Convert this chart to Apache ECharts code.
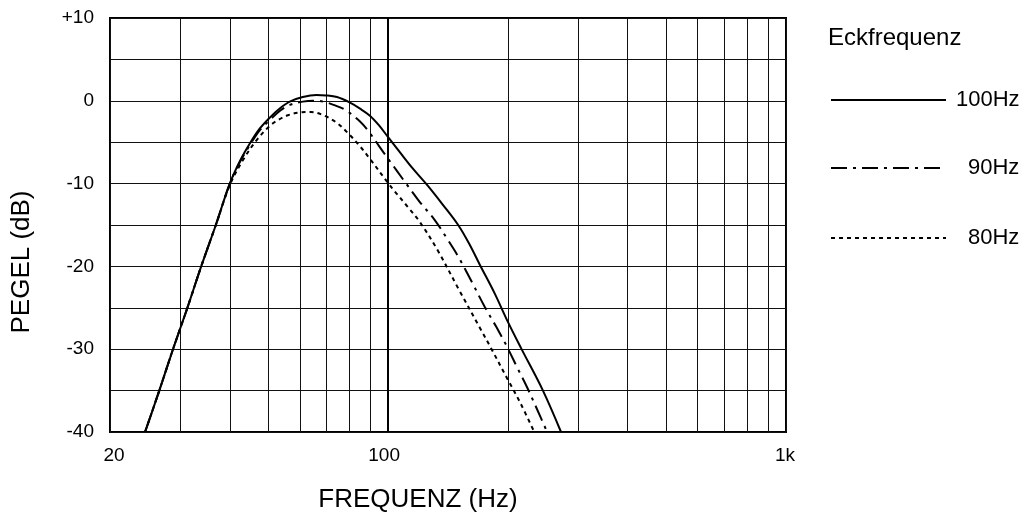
<!DOCTYPE html>
<html><head><meta charset="utf-8">
<script src="https://cdn.jsdelivr.net/npm/echarts@6/dist/echarts.min.js"></script>
<style>html,body{margin:0;padding:0;background:#fff}#c{width:1030px;height:521px}</style>
</head><body><div id="c"></div>
<script>
const seriesNames = ['100Hz', '90Hz', '80Hz'];
const f100 = [24.5,26.6,28.8,31.3,33.9,36.9,40,42.5,45,47.5,50.5,53.5,56.6,61,66,70,74.4,80,85,90,95,100,107,115,125,137,150,160,170,185,200,216,245,272];
const db100 = [-40,-35,-30,-25,-20,-15,-10,-7.2,-5.1,-3.4,-2.0,-0.9,-0.1,0.45,0.7,0.65,0.45,-0.2,-0.95,-1.8,-3.0,-4.4,-6.2,-8.1,-10.1,-12.5,-15,-17.3,-19.8,-23.2,-26.7,-29.9,-35,-40];
const f90 = [24.5,26.6,28.8,31.3,33.9,36.9,40,42.5,45,47.5,50.5,53.5,56.6,61,66,70,73,78,85,90,95,100,105,111,120,131,140,150,162,175,187,199,211,223,236,251];
const db90 = [-40,-35,-30,-25,-20,-15,-10,-7.3,-5.3,-3.6,-2.3,-1.2,-0.5,-0.1,0,-0.2,-0.5,-1.1,-2.5,-3.9,-5.5,-7,-8.4,-10,-12.2,-14.4,-16.5,-18.8,-21.8,-24.9,-27.3,-29.7,-32.2,-34.5,-37.1,-40];
const f80 = [24.5,26.6,28.8,31.3,33.9,36.9,40,43.5,47,50.5,53,56,60,64,68,74,80,85,90,99.5,105,112,120,133,151,170,182,199,215,233];
const db80 = [-40,-35,-30,-25,-20,-15,-10.2,-6.9,-4.6,-3.0,-2.3,-1.75,-1.4,-1.35,-1.65,-2.6,-4.1,-5.5,-7.0,-9.8,-11.2,-12.8,-14.6,-18,-22.9,-27.4,-30,-33.5,-36.5,-40];
const xTickValues = [20, 100, 1000];
const xTickLabels = ['20', '100', '1k'];
const xGridValues = [20,30,40,50,60,70,80,90,100,200,300,400,500,600,700,800,900,1000];
const yTickValues = [-40, -30, -20, -10, 0, 10];
const yTickLabels = ['-40', '-30', '-20', '-10', '0', '+10'];

const FONT = '"Liberation Sans", Arial, Helvetica, sans-serif';
const lg = Math.log10;
function pairs(fs, ds) { return fs.map((f, i) => [lg(f), ds[i]]); }
function lookupIdx(vals, v) {
  for (let i = 0; i < vals.length; i++) if (Math.abs(vals[i] - v) < 1e-6) return i;
  return -1;
}
const lineTypes = ['solid', [16, 6, 3, 6], [4, 4]];
const dataSets = [pairs(f100, db100), pairs(f90, db90), pairs(f80, db80)];
const legendTops = [89, 157, 227];
const legendPads = [5, 17, 17];
const xLabelStyles = ['first', 'mid', 'last'];

const chart = echarts.init(document.getElementById('c'), null, { renderer: 'canvas' });
chart.setOption({
  animation: false,
  backgroundColor: '#fff',
  textStyle: { fontFamily: FONT, color: '#000' },
  title: {
    text: 'Eckfrequenz', left: 828, top: 26, padding: 0,
    textStyle: { fontSize: 24, fontWeight: 'normal', color: '#000', fontFamily: FONT }
  },
  legend: seriesNames.map((n, i) => ({
    data: [n], left: 830, top: legendTops[i], padding: 0,
    itemWidth: 115, itemHeight: 22, selectedMode: false,
    itemStyle: { opacity: 0 },
    textStyle: { fontSize: 22, color: '#000', fontFamily: FONT, padding: [0, 0, 0, legendPads[i]] }
  })),
  grid: { left: 110, right: 244, top: 18, bottom: 89, show: true, borderColor: '#000', borderWidth: 2 },
  xAxis: {
    type: 'value', min: lg(20), max: 3,
    name: 'FREQUENZ (Hz)', nameLocation: 'middle', nameGap: 55,
    nameTextStyle: { fontSize: 26, color: '#000', fontFamily: FONT, padding: [0, 60, 0, 0] },
    axisLine: { show: false },
    axisTick: { show: false, customValues: xGridValues.map(lg) },
    axisLabel: {
      customValues: xTickValues.map(lg), fontSize: 19, color: '#000', margin: 14, fontFamily: FONT,
      formatter: v => {
        const i = lookupIdx(xTickValues.map(lg), v);
        return i < 0 ? '' : '{' + xLabelStyles[i] + '|' + xTickLabels[i] + '}';
      },
      rich: {
        first: { fontSize: 19, fontFamily: FONT, color: '#000', padding: [0, 0, 0, 8] },
        mid: { fontSize: 19, fontFamily: FONT, color: '#000', padding: [0, 8, 0, 0] },
        last: { fontSize: 19, fontFamily: FONT, color: '#000', padding: [0, 2, 0, 0] }
      }
    },
    splitLine: { show: true, lineStyle: { color: '#111', width: 1 } }
  },
  yAxis: {
    type: 'value', min: -40, max: 10, interval: 5,
    name: 'PEGEL (dB)', nameLocation: 'middle', nameGap: 75,
    nameTextStyle: { fontSize: 26, color: '#000', fontFamily: FONT, padding: [0, 74, 0, 0] },
    axisLine: { show: false },
    axisTick: { show: false },
    axisLabel: {
      customValues: yTickValues, fontSize: 19, color: '#000', margin: 16, fontFamily: FONT,
      formatter: v => { const i = lookupIdx(yTickValues, v); return i < 0 ? '' : yTickLabels[i]; }
    },
    splitLine: { show: true, lineStyle: { color: '#111', width: 1 } }
  },
  series: seriesNames.map((n, i) => {
    const s = {
      type: 'line', name: n, data: dataSets[i], symbol: 'none', smooth: 0.35,
      lineStyle: { color: '#000', width: 2, type: lineTypes[i] },
      itemStyle: { color: '#000' }, z: 3
    };
    if (i === 0) {
      s.markLine = {
        silent: true, symbol: 'none', label: { show: false },
        lineStyle: { color: '#000', width: 2, type: 'solid' },
        data: [{ xAxis: lg(100) }], z: 2
      };
    }
    return s;
  })
});
</script></body></html>
